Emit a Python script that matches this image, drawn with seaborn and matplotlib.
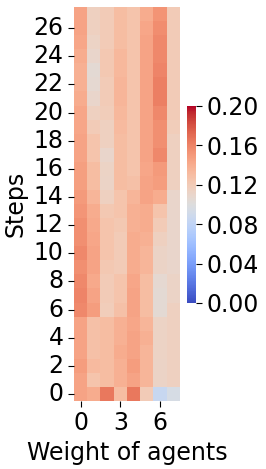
import numpy as np
import pandas as pd
import matplotlib
matplotlib.use("Agg")
import matplotlib.pyplot as plt
import seaborn as sns

# values per weight column, listed from step 0 up to step 27
w0 = [0.145, 0.145, 0.148, 0.145, 0.145, 0.145, 0.158, 0.160, 0.158, 0.155, 0.158, 0.155, 0.155, 0.152,
      0.150, 0.147, 0.147, 0.145, 0.145, 0.143, 0.143, 0.140, 0.138, 0.138, 0.140, 0.143, 0.145, 0.145]
w1 = [0.140, 0.125, 0.132, 0.128, 0.128, 0.128, 0.148, 0.145, 0.142, 0.145, 0.145, 0.143, 0.142, 0.140,
      0.135, 0.130, 0.130, 0.125, 0.125, 0.120, 0.115, 0.110, 0.107, 0.105, 0.110, 0.113, 0.115, 0.115]
w2 = [0.165, 0.130, 0.130, 0.130, 0.130, 0.130, 0.118, 0.120, 0.120, 0.122, 0.125, 0.125, 0.125, 0.122,
      0.115, 0.112, 0.113, 0.110, 0.115, 0.115, 0.118, 0.120, 0.120, 0.122, 0.122, 0.120, 0.120, 0.120]
w3 = [0.130, 0.138, 0.138, 0.140, 0.138, 0.138, 0.128, 0.125, 0.125, 0.120, 0.120, 0.120, 0.122, 0.125,
      0.125, 0.130, 0.130, 0.130, 0.130, 0.132, 0.133, 0.135, 0.135, 0.133, 0.133, 0.130, 0.130, 0.130]
w4 = [0.165, 0.145, 0.148, 0.145, 0.145, 0.143, 0.145, 0.145, 0.143, 0.140, 0.140, 0.140, 0.138, 0.138,
      0.135, 0.128, 0.125, 0.125, 0.125, 0.125, 0.125, 0.125, 0.125, 0.125, 0.125, 0.125, 0.125, 0.125]
w5 = [0.120, 0.135, 0.135, 0.135, 0.138, 0.135, 0.130, 0.130, 0.130, 0.135, 0.135, 0.138, 0.140, 0.140,
      0.145, 0.145, 0.143, 0.145, 0.145, 0.145, 0.145, 0.145, 0.145, 0.145, 0.145, 0.145, 0.143, 0.140]
w6 = [0.085, 0.112, 0.112, 0.113, 0.113, 0.113, 0.105, 0.105, 0.107, 0.112, 0.112, 0.115, 0.120, 0.125,
      0.140, 0.148, 0.150, 0.158, 0.155, 0.155, 0.158, 0.162, 0.162, 0.160, 0.158, 0.158, 0.156, 0.153]
w7 = [0.095, 0.115, 0.115, 0.115, 0.115, 0.115, 0.115, 0.112, 0.112, 0.110, 0.110, 0.110, 0.110, 0.110,
      0.110, 0.115, 0.115, 0.115, 0.115, 0.118, 0.120, 0.120, 0.120, 0.120, 0.120, 0.120, 0.120, 0.120]

weights = [w0, w1, w2, w3, w4, w5, w6, w7]
df = pd.DataFrame(np.array(weights).T, columns=range(len(weights)))

fs = 17
fig = plt.figure(figsize=(2.66, 4.69), dpi=100)
ax = fig.add_axes([0.278, 0.145, 0.398, 0.840])
cax = fig.add_axes([0.703, 0.354, 0.034, 0.42])

sns.heatmap(df, ax=ax, cbar_ax=cax, cmap="coolwarm", vmin=0, vmax=0.2,
            xticklabels=3, yticklabels=2,
            cbar_kws={"ticks": [0, 0.04, 0.08, 0.12, 0.16, 0.20], "format": "%.2f"})
ax.invert_yaxis()
ax.set_xlabel("Weight of agents", fontsize=fs)
ax.set_ylabel("Steps", fontsize=fs)
ax.tick_params(axis="both", labelsize=fs, length=4)
plt.setp(ax.get_yticklabels(), rotation=0)
plt.setp(ax.get_xticklabels(), rotation=0)
cax.tick_params(labelsize=fs, length=4)

fig.savefig("out.png", dpi=100)
